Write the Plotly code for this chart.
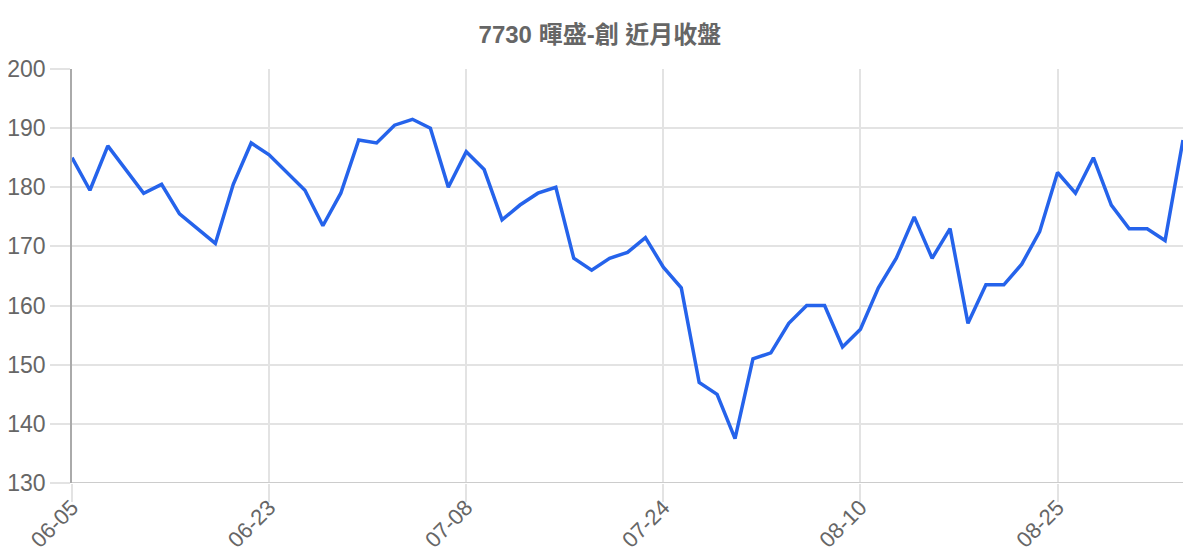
import plotly.graph_objects as go

# 7730 暉盛-創 closing prices, last month
dates = ['06-05', '06-06', '06-09', '06-10', '06-11', '06-12', '06-13', '06-16', '06-17', '06-18',
         '06-19', '06-23', '06-24', '06-25', '06-26', '06-27', '06-30', '07-01', '07-02', '07-03',
         '07-04', '07-07', '07-08', '07-09', '07-10', '07-11', '07-14', '07-15', '07-16', '07-17',
         '07-18', '07-21', '07-22', '07-24', '07-25', '07-28', '07-29', '07-30', '07-31', '08-01',
         '08-04', '08-05', '08-06', '08-07', '08-10', '08-11', '08-12', '08-13', '08-14', '08-15',
         '08-18', '08-19', '08-20', '08-21', '08-22', '08-25', '08-26', '08-27', '08-28', '08-29',
         '09-01', '09-02', '09-03']
close = [185, 179.5, 187, 183, 179, 180.5, 175.5, 173, 170.5, 180.5,
         187.5, 185.5, 182.5, 179.5, 173.5, 179, 188, 187.5, 190.5, 191.5,
         190, 180, 186, 183, 174.5, 177, 179, 180, 168, 166,
         168, 169, 171.5, 166.5, 163, 147, 145, 137.5, 151, 152,
         157, 160, 160, 153, 156, 163, 168, 175, 168, 173,
         157, 163.5, 163.5, 167, 172.5, 182.5, 179, 185, 177, 173,
         173, 171, 188]
tick_labels = dates[::11]

title_text = '7730 暉盛-創 近月收盤'
font_stack = 'Liberation Sans, Arial, Noto Sans CJK TC, sans-serif'
grid_col = '#e3e3e3'

fig = go.Figure()
fig.add_trace(go.Scatter(x=dates, y=close, mode='lines', name='收盤',
                         line=dict(color='#2563eb', width=3.5)))

# page body has an 8px margin, so the figure is sized 8px smaller each way
fig.update_layout(
    width=1192, height=552,
    margin=dict(l=64, r=17, t=61, b=77, autoexpand=False),
    plot_bgcolor='white', paper_bgcolor='white',
    showlegend=False,
    font=dict(family=font_stack, color='#666666', size=22),
    title=dict(text='<b>' + title_text + '</b>', x=0.4966, xanchor='center', y=0.951, yanchor='middle',
               font=dict(size=24, color='#666666', family=font_stack)),
)
fig.update_xaxes(type='category', range=[0, len(dates) - 1], automargin=False,
                 tickmode='array', tickvals=tick_labels, ticktext=tick_labels,
                 tickangle=-45, ticks='outside', ticklen=18, tickcolor=grid_col, tickwidth=1.5,
                 ticklabelstandoff=-16,
                 showgrid=True, gridcolor=grid_col, gridwidth=1.5,
                 showline=False, zeroline=False, tickfont=dict(size=22, color='#666666'))
fig.update_yaxes(range=[130, 200], dtick=10, tick0=130, automargin=False,
                 ticks='outside', ticklen=20, tickcolor=grid_col, tickwidth=1.5,
                 showgrid=True, gridcolor=grid_col, gridwidth=1.5,
                 showline=True, linecolor='#aaaaaa', linewidth=1.5,
                 zeroline=False, tickfont=dict(size=23, color='#666666'))
# bottom border line at 130
fig.add_hline(y=130, line=dict(color='#cccccc', width=2))

fig.write_html("out.html")
